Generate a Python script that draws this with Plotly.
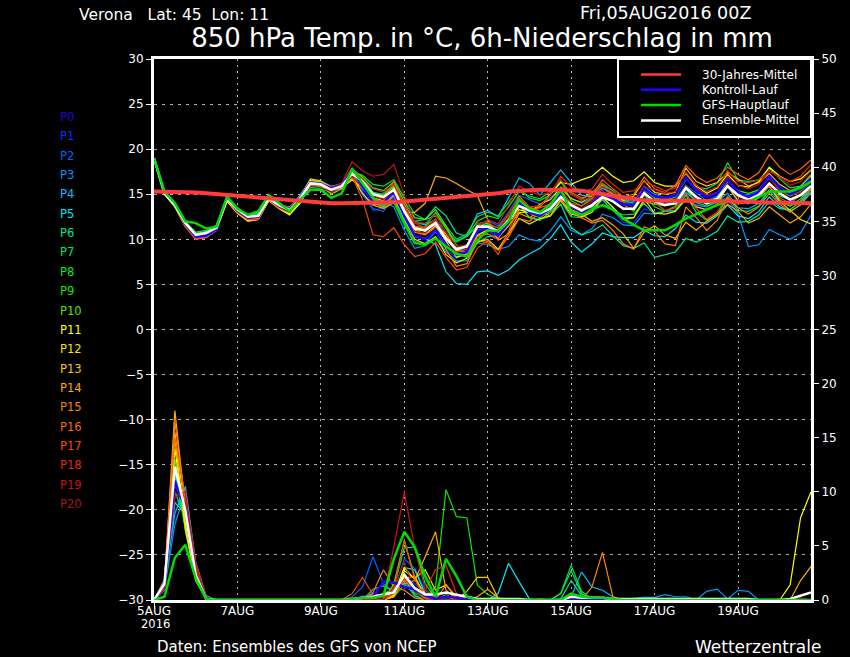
import pandas as pd
import plotly.graph_objects as go

# temperature at 850 hPa, one value every 6h from 05AUG2016 00Z
t_p0 = [19.0,15.2,13.9,11.7,10.3,10.4,11.1,14.7,13.2,12.4,12.5,14.6,13.7,13.1,14.6,16.3,
        16.2,15.6,16.0,17.6,15.9,14.1,14.1,15.2,12.6,10.4,10.0,11.1,9.4,8.3,8.6,11.0,
        11.2,10.4,11.9,14.0,13.0,12.6,13.4,15.1,13.6,13.0,13.9,15.2,14.4,13.9,13.8,15.6,
        14.8,14.6,14.9,16.8,15.4,14.7,15.1,16.6,15.3,14.6,15.3,17.0,15.8,15.0,15.6,16.8]
t_p1 = [19.0,15.1,13.7,11.6,10.2,10.3,11.2,14.8,13.4,12.3,12.4,14.4,13.6,13.5,14.8,16.4,
        16.3,15.4,15.8,17.1,15.4,13.2,13.5,14.8,12.0,9.8,9.6,10.8,8.9,7.9,8.4,10.6,
        10.9,10.1,12.3,14.4,13.6,12.8,13.6,14.9,13.2,12.4,13.1,14.3,13.2,11.9,11.8,13.4,
        13.0,13.1,13.5,15.3,14.0,13.6,14.1,15.8,14.2,13.9,14.6,16.1,15.1,14.2,15.0,16.4]
t_p2 = [19.0,15.0,13.8,11.9,10.4,10.6,11.4,14.9,13.5,12.6,12.7,14.5,13.5,12.9,14.3,16.0,
        15.9,15.3,15.9,17.0,14.9,13.4,13.1,14.6,11.6,9.6,9.5,10.9,10.1,8.8,8.9,11.6,
        12.1,11.5,13.0,14.9,14.4,13.9,14.6,15.8,14.6,14.0,14.6,15.8,14.7,14.2,14.0,15.9,
        14.9,14.2,14.4,16.0,15.1,14.3,14.8,15.9,15.1,14.9,15.4,16.8,15.7,15.2,15.6,17.1]
t_p3 = [19.0,15.2,13.9,12.0,10.6,10.7,11.2,14.6,13.3,12.7,12.9,14.7,13.9,13.0,14.1,15.8,
        15.6,15.2,15.7,17.2,15.6,14.4,14.2,13.6,11.0,9.0,9.3,10.2,8.6,7.6,7.6,9.6,
        9.4,8.9,9.2,10.5,10.0,9.8,10.9,12.5,11.0,10.5,11.2,12.8,12.4,11.6,11.5,12.9,
        12.8,13.1,13.2,14.4,13.8,13.6,14.4,14.5,12.8,9.2,9.4,11.1,10.5,10.0,10.7,12.7]
t_p4 = [19.0,15.1,13.6,11.5,10.1,10.5,11.5,14.5,13.1,12.2,12.3,14.3,13.5,13.4,14.9,16.6,
        16.4,15.9,16.1,17.3,16.2,15.2,15.0,16.0,13.6,11.9,11.6,12.2,10.7,9.8,10.4,12.8,
        13.2,12.5,14.6,16.8,16.2,14.9,16.3,17.7,16.3,14.9,14.7,15.7,15.0,14.4,14.2,15.6,
        15.0,14.6,14.1,15.2,14.3,13.9,14.2,15.1,13.5,13.4,14.0,15.4,14.1,13.7,14.2,15.9]
t_p5 = [19.0,15.0,13.7,11.7,10.4,10.8,11.6,14.4,13.0,12.1,12.2,14.4,13.8,13.6,14.6,16.1,
        16.0,15.5,15.9,17.4,16.0,14.0,13.6,14.9,12.1,10.3,10.1,9.4,6.4,5.1,5.0,6.4,
        6.5,6.0,6.6,7.7,8.4,9.0,10.1,11.6,9.7,8.6,9.5,10.7,10.3,10.2,10.2,11.0,
        10.4,10.3,11.2,12.7,11.9,11.8,12.6,13.8,12.6,12.3,13.1,14.7,13.6,13.1,13.8,15.2]
t_p6 = [19.0,15.2,13.8,11.8,10.6,10.9,11.5,14.6,13.4,12.4,12.6,14.8,13.9,12.8,14.0,16.0,
        16.2,15.6,16.2,17.7,16.8,15.2,14.6,15.6,13.9,12.0,12.2,13.6,12.6,10.7,10.3,11.5,
        11.6,11.3,12.7,13.9,12.4,12.2,12.6,13.9,11.3,10.5,10.9,11.6,10.4,9.3,9.0,9.6,
        8.0,8.3,8.6,10.1,9.7,10.2,10.9,12.6,11.9,12.0,12.7,14.2,13.4,13.3,14.2,15.6]
t_p7 = [19.0,15.1,13.9,11.9,10.7,10.8,11.3,14.5,13.3,12.6,12.8,14.9,14.1,13.2,14.4,15.8,
        15.8,15.5,16.1,17.9,16.6,15.0,14.9,15.8,13.2,11.3,11.4,13.0,11.2,9.4,8.0,9.6,
        10.3,10.4,12.0,13.8,12.4,12.1,13.0,14.3,12.5,12.4,13.4,14.4,13.2,12.7,12.8,14.0,
        12.8,13.1,13.2,14.9,13.0,12.1,12.7,14.7,13.2,13.1,13.7,15.5,14.8,14.4,15.0,16.0]
t_p8 = [19.0,15.2,14.0,12.0,10.8,11.0,11.4,14.7,13.4,12.5,12.6,14.6,13.9,13.3,14.5,16.2,
        16.1,15.5,15.9,17.5,17.1,16.1,15.9,16.6,14.6,12.8,12.2,12.6,11.5,10.0,10.6,12.5,
        13.0,12.6,14.1,15.6,14.6,14.3,14.9,16.4,15.0,14.4,15.2,16.2,15.4,14.3,14.0,15.5,
        14.6,14.3,14.7,16.6,15.8,15.6,16.2,18.5,16.6,16.4,16.6,17.9,16.7,15.7,15.9,17.2]
t_p9 = [19.0,15.1,13.7,11.8,10.5,10.7,11.6,14.4,13.2,12.5,12.7,14.5,13.7,12.9,14.2,15.9,
        15.9,15.4,16.0,17.2,16.4,15.1,15.0,15.9,13.6,12.0,11.7,12.9,11.2,9.7,10.3,12.0,
        12.6,12.3,13.6,15.3,14.8,14.5,15.3,16.5,14.3,13.7,14.6,16.2,15.0,13.9,13.1,14.9,
        13.6,13.1,13.7,15.6,14.1,13.7,14.1,16.0,14.7,14.5,15.1,15.9,14.4,13.7,14.5,16.0]
t_p10 = [19.0,15.3,13.9,11.7,10.4,10.6,11.3,14.6,13.5,12.7,12.9,14.7,14.0,13.4,14.7,16.5,
         16.4,15.7,16.1,17.8,16.9,15.7,15.4,16.4,14.2,12.4,12.2,13.3,11.5,9.1,9.4,11.5,
         11.8,10.8,12.4,13.9,12.9,12.4,13.2,14.9,14.0,13.1,13.6,14.7,13.5,12.4,12.4,14.2,
         13.9,13.7,14.1,15.9,14.7,14.2,14.6,16.4,15.4,15.1,15.5,16.9,15.4,14.8,15.3,16.5]
t_p11 = [19.0,15.2,13.8,11.6,10.3,10.5,11.0,14.2,12.9,12.1,12.2,14.3,13.4,12.7,14.0,16.0,
         16.1,15.4,15.7,16.6,15.7,14.9,14.6,15.4,12.9,11.0,10.6,11.5,9.8,8.0,8.4,10.4,
         11.1,10.4,11.8,13.3,13.0,13.6,15.0,16.3,16.1,16.6,17.0,18.0,17.0,16.3,16.5,17.5,
         16.3,15.9,15.9,17.3,15.9,15.1,15.7,17.2,16.0,15.8,16.4,18.0,17.0,16.4,16.7,17.7]
t_p12 = [19.0,15.1,13.7,11.5,10.2,10.4,11.1,14.3,13.0,12.2,12.3,14.4,13.6,12.8,14.3,16.5,
         16.3,15.6,15.8,16.9,15.1,13.8,14.0,15.0,12.3,10.0,9.5,10.3,8.3,7.4,7.9,9.7,
         10.0,8.9,10.7,12.3,11.7,12.3,12.6,14.4,12.8,12.5,13.0,14.6,13.6,12.2,12.4,14.5,
         12.9,12.8,13.1,14.5,13.6,13.3,13.9,15.9,14.3,14.0,14.6,15.9,14.2,13.2,12.2,11.7]
t_p13 = [19.0,15.0,13.6,11.4,10.1,10.2,11.0,14.3,12.9,12.0,12.2,14.3,13.5,13.0,14.6,16.7,
         16.5,15.7,16.0,17.0,15.9,14.6,14.3,15.7,13.3,11.4,10.9,11.6,10.6,8.8,8.6,10.9,
         11.5,10.2,11.5,13.0,13.0,13.9,14.4,15.7,14.5,14.1,14.8,16.0,15.0,14.3,14.8,16.5,
         15.2,15.0,15.2,17.9,16.4,15.9,16.3,17.4,16.7,15.9,16.3,17.3,16.1,15.4,15.8,17.0]
t_p14 = [19.0,15.1,13.7,11.6,10.0,10.3,11.3,14.5,13.2,12.3,12.5,14.6,13.8,13.1,14.8,16.4,
         16.0,15.0,15.6,16.8,16.0,13.8,13.4,14.1,13.0,13.0,14.0,17.0,16.8,16.2,15.5,14.9,
         12.2,9.9,10.6,12.9,12.4,13.1,12.6,14.3,13.3,12.8,12.0,12.4,11.6,10.6,9.0,10.8,
         11.5,10.5,10.1,11.9,11.0,12.0,12.8,13.9,13.1,11.8,12.3,13.6,12.7,11.8,12.5,13.9]
t_p15 = [19.0,15.2,13.8,11.5,10.0,10.2,11.1,14.4,13.1,12.2,12.3,14.5,13.6,13.2,14.7,16.3,
         16.1,15.6,16.1,17.3,15.8,14.5,13.4,14.9,12.6,10.8,10.5,11.3,8.9,7.0,7.3,9.9,
         9.6,8.8,10.3,12.3,12.0,13.0,14.0,14.5,13.0,12.4,11.8,12.1,11.0,9.5,8.9,11.4,
         10.9,9.5,9.3,13.6,12.4,11.0,12.1,14.5,13.5,12.8,13.6,15.1,13.9,13.0,13.9,15.5]
t_p16 = [19.0,15.3,14.0,11.6,10.1,10.2,11.2,14.6,13.2,12.4,12.4,14.7,13.8,13.0,14.4,16.1,
         16.2,15.8,16.2,17.6,16.3,14.8,14.6,16.4,13.7,11.5,11.2,12.0,10.3,8.5,8.2,10.3,
         10.6,10.0,12.4,14.8,13.6,13.1,13.5,15.8,15.2,14.6,14.9,16.6,15.6,14.7,15.0,16.9,
         15.6,15.2,16.0,18.2,17.0,16.3,16.8,18.0,17.2,16.6,17.4,19.4,18.0,17.2,17.8,18.8]
t_p17 = [19.0,15.2,13.9,11.4,10.0,10.4,11.2,14.4,13.0,12.2,12.2,14.5,13.8,13.3,14.4,16.0,
         16.0,15.4,16.0,17.0,14.4,10.5,10.3,11.3,9.4,8.1,8.4,9.7,8.0,6.6,6.9,9.0,
         9.9,8.3,10.9,13.6,13.1,13.5,13.9,15.4,14.0,13.7,14.4,16.2,14.8,14.1,13.8,15.3,
         14.1,13.2,13.5,15.1,13.4,12.2,13.0,14.8,13.9,14.1,14.8,15.9,14.6,14.0,14.9,15.6]
t_p18 = [19.0,15.1,13.8,11.6,10.2,10.6,11.4,14.7,13.3,12.5,12.6,14.4,13.5,13.0,14.5,16.2,
         16.2,15.7,16.1,17.8,16.7,15.6,15.2,16.1,13.7,11.8,11.3,12.3,10.2,8.6,8.9,11.8,
         11.9,11.2,12.8,14.6,13.6,13.7,14.9,17.0,15.8,15.2,15.6,17.2,16.1,15.2,15.4,16.4,
         15.9,15.4,15.7,17.4,16.0,15.3,15.8,17.6,16.4,16.3,16.6,17.6,16.9,16.4,17.0,18.3]
t_p19 = [19.0,15.3,14.0,11.8,10.4,10.5,11.3,14.6,13.4,12.4,12.5,14.6,14.0,13.5,14.6,16.1,
         16.1,15.8,16.2,18.6,17.6,17.0,17.2,18.3,14.9,11.9,11.8,12.8,10.7,9.3,9.0,11.3,
         12.2,11.7,13.8,15.9,15.3,14.9,15.2,16.7,15.0,14.3,14.7,15.9,15.2,14.5,14.3,15.8,
         15.5,15.1,15.3,16.6,15.7,14.9,15.2,16.9,16.0,15.6,16.1,17.6,16.9,16.0,16.4,17.6]
t_p20 = [19.0,15.2,13.7,11.7,10.3,10.6,11.1,14.5,13.1,12.3,12.5,14.5,13.9,13.2,14.3,15.9,
         15.7,15.3,15.8,17.0,15.7,14.8,14.4,15.5,13.0,10.9,10.7,11.7,10.9,9.2,9.4,11.1,
         11.4,11.0,12.5,14.2,13.4,13.0,13.7,14.8,13.9,13.4,14.2,15.5,14.1,13.5,13.6,15.0,
         14.4,14.0,14.3,15.9,14.4,14.0,14.5,16.1,14.7,14.6,15.3,16.8,15.4,14.9,15.2,16.6]

t_gfs = [19.0,15.3,14.0,12.0,11.8,11.2,11.4,14.7,13.4,12.7,13.1,14.9,14.0,13.1,14.4,15.5,
         15.5,14.6,15.1,17.8,16.2,14.6,13.8,14.2,11.8,9.6,9.4,10.1,9.2,8.4,8.1,9.9,
         11.0,10.9,12.0,14.4,13.4,13.0,13.8,15.5,13.1,12.7,13.3,13.8,13.3,12.3,11.6,11.0,
         11.0,11.0,11.6,12.3,12.8,13.3,13.8,14.2,14.2,14.2,14.7,15.3,15.3,15.3,15.7,16.4]
t_mean = [19.0,15.1,13.8,11.8,10.5,10.7,11.3,14.5,13.3,12.5,12.6,14.5,13.8,13.2,14.5,16.2,
          16.1,15.5,15.9,17.3,16.4,15.0,14.7,15.5,13.1,11.2,11.0,11.8,10.1,8.9,9.2,11.4,
          11.4,10.9,12.1,13.7,13.2,12.9,13.4,14.7,13.8,13.2,13.8,14.7,14.2,13.4,13.4,15.1,
          14.2,13.8,14.0,15.7,14.7,14.0,14.5,15.9,14.9,14.4,14.9,16.2,15.1,14.4,14.9,15.9]
t_clim = [15.3,15.3,15.3,15.3,15.2,15.1,15.0,14.9,14.8,14.7,14.6,14.5,14.4,14.3,14.2,14.1,
          14.1,14.0,14.0,14.0,14.0,14.0,14.1,14.1,14.2,14.3,14.4,14.5,14.6,14.7,14.8,14.9,
          14.9,15.1,15.3,15.4,15.5,15.5,15.5,15.5,15.5,15.4,15.2,15.0,14.8,14.6,14.4,14.3,
          14.3,14.3,14.3,14.2,14.2,14.2,14.2,14.2,14.2,14.2,14.1,14.1,14.1,14.0,14.0,14.0]

temp_members = [t_p0, t_p1, t_p2, t_p3, t_p4, t_p5, t_p6, t_p7, t_p8, t_p9, t_p10,
                t_p11, t_p12, t_p13, t_p14, t_p15, t_p16, t_p17, t_p18, t_p19, t_p20]

# 6h precipitation in mm, same time steps
def pad(v):
    return v + [0] * (64 - len(v))

r_p0 = pad([0,1.5,11,8.5,2.2,.1] + [0]*13 + [0,.2,.3,1.7,1.6,1.2,1.0,.4,.1,.3,.2])
r_p1 = pad([0,1.2,9,9.5,2.8,.2] + [0]*13 + [0,.4,.2,.6,.9,2.4,1.5,.7,.2,0,.1])
r_p2 = pad([0,1.8,13,8,2,.1] + [0]*13 + [.3,1.2,4.0,1.5,.8,3.8,2.9,.9,.2,.1])
r_p3 = pad([0,.9,7,10,3.2,.3] + [0]*13 + [0,.1,.6,.3,1.1,1.9,.7,.3,.1] + [0]*18
           + [.15,.25,.25,.5,.3,.3,0,.8,1,.1,.9,.8])
r_p4 = pad([0,1.4,8,10.5,3.5,.4] + [0]*15 + [.5,.3,1.2,1.6,.4] + [0]*14 + [.3,2.6,1.2,.9,.3])
r_p5 = pad([0,1.1,9,8,3,.3] + [0]*17 + [.4,3,2.8,.6] + [0]*6 + [.6,3.4,1.7,.1])
r_p6 = pad([0,1.6,10,7.5,2.4,.2] + [0]*15 + [1.0,1.3,.8,2.0,.4] + [0]*13 + [.1,1.8,.4])
r_p7 = pad([0,1.3,11.5,7,2,.1] + [0]*17 + [1.2,4.8,4.9,1.5,.2] + [0]*11 + [.6,2.7,.6])
r_p8 = pad([0,1.5,12,6.5,1.8,.1] + [0]*17 + [.8,2.5,1.0] + [0]*13 + [.6,3.2,.8,.1])
r_p9 = pad([0,1.7,12.5,7,1.9,.1] + [0]*17 + [.3,1.4,.6,.2,1.2,10.2,7.7,7.6,1.4,.5,.1])
r_p10 = pad([0,1.8,13,7.5,2.1,.1] + [0]*17 + [1.5,5.5,2.1,.4,0,.5])
r_p11 = pad([0,1.4,14,7,1.8,.1] + [0]*17 + [.5,3,1.9,.6] + [0]*34 + [1.4,7.6,10])
r_p12 = pad([0,1.3,15,6.5,1.9,.1] + [0]*17 + [.4,2.7,2.0,2.8,.9,1.4,.2])
r_p13 = pad([0,1.6,15.5,8,2.3,.1] + [0]*17 + [.3,2.0,2.2,.4,0,.3,0,.8,2.1,2.1,.15])
r_p14 = pad([0,1.5,17.5,8.5,2.4,.1] + [0]*16 + [.6,1.0,1.5,1.8,4.0,6.3,.9,.1,0,.3,1.0,.2]
            + [0]*28 + [1.8,3.1])
r_p15 = pad([0,1.7,16.5,9,2.6,.1] + [0]*15 + [.7,2.8,1.2,.9,.2,0,0,1.4,.3] + [0]*7 + [.1]
            + [0]*4 + [1.2,4.4,.3])
r_p16 = pad([0,1.9,15,9.5,2.9,.2] + [0]*14 + [.3,.4,.2,.6,1.8,1.1,.2])
r_p17 = pad([0,1.4,12,9,3,.2] + [0]*13 + [.6,2.1,.5,.3,1.0,5.5,1.9,.2] + [0]*33 + [.1])
r_p18 = pad([0,1.2,10.5,9.5,3.1,.3] + [0]*17 + [.6,2.0,1.0,.9,2.8,3.2,.6])
r_p19 = pad([0,1.0,9.5,10,3.4,.3] + [0]*16 + [.3,4.9,10,4.8,1.0,.2] + [0]*34 + [.2])
r_p20 = pad([0,1.3,10,9,2.7,.2] + [0]*17 + [1.2,3.5,.8])

r_gfs = pad([0,.3,3.9,5.1,2,.1] + [0]*13 + [.1,.2,.2,.4,3.8,6.3,4.9,2.2,.3,3.8,2.2,.3]
            + [0]*9 + [.6,.3,.2,.2,.1])
r_mean = pad([0,1.5,12.3,8.3,2.3,.1] + [0]*13 + [.1,.2,.3,.5,.7,2.3,1.1,.5,.5,.7,.5,.3,.1,.1,.1,.1,.1]
             + [0]*4 + [.3,.2,.2,.2,.1,.1,.1] + [.1]*11 + [0]*3 + [.1,.4,.7])

rain_members = [r_p0, r_p1, r_p2, r_p3, r_p4, r_p5, r_p6, r_p7, r_p8, r_p9, r_p10,
                r_p11, r_p12, r_p13, r_p14, r_p15, r_p16, r_p17, r_p18, r_p19, r_p20]

member_names = ["P%d" % i for i in range(21)]
member_colors = ["#2800dc", "#0032ff", "#0064ff", "#0096ff", "#00beff", "#00e6ff",
                 "#00e696", "#00e664", "#00e63c", "#14e600", "#50e600",
                 "#ffff00", "#ffe000", "#ffc800", "#ffaa00", "#ff8200",
                 "#ff6400", "#ff4600", "#e62800", "#c81414", "#aa1414"]

times = pd.date_range("2016-08-05 00:00", periods=64, freq="6h")
tick_dates = ["2016-08-05", "2016-08-07", "2016-08-09", "2016-08-11", "2016-08-13",
              "2016-08-15", "2016-08-17", "2016-08-19"]
tick_labels = ["5AUG", "7AUG", "9AUG", "11AUG", "13AUG", "15AUG", "17AUG", "19AUG"]

legend_names = ["30-Jahres-Mittel", "Kontroll-Lauf", "GFS-Hauptlauf", "Ensemble-Mittel"]
legend_colors = ["#ff3c3c", "#2000ff", "#00dc00", "white"]

FONT = "DejaVu Sans"

# plot box in window pixels
L, R, T, B = 154, 811, 59, 600


def px_x(p):
    return (p - L) / (R - L)


def px_y(p):
    return (B - p) / (B - T)


fig = go.Figure()

for name, col, temp, rain in zip(member_names, member_colors, temp_members, rain_members):
    fig.add_trace(go.Scatter(x=times, y=temp, mode="lines", name=name,
                             line=dict(color=col, width=1.2), showlegend=False))
    fig.add_trace(go.Scatter(x=times, y=rain, yaxis="y2", mode="lines", name=name,
                             line=dict(color=col, width=1.2), showlegend=False))

# green goes over white in the picture, red over everything
for label, temp, rain, col, w in [("Kontroll-Lauf", t_p0, r_p0, "#2000ff", 2.5),
                                  ("Ensemble-Mittel", t_mean, r_mean, "white", 2.5),
                                  ("GFS-Hauptlauf", t_gfs, r_gfs, "#00dc00", 2.5)]:
    fig.add_trace(go.Scatter(x=times, y=temp, mode="lines", name=label, showlegend=False,
                             line=dict(color=col, width=w)))
    fig.add_trace(go.Scatter(x=times, y=rain, yaxis="y2", mode="lines", name=label, showlegend=False,
                             line=dict(color=col, width=w)))
fig.add_trace(go.Scatter(x=times, y=t_clim, mode="lines", name="30-Jahres-Mittel", showlegend=False,
                         line=dict(color="#ff3c3c", width=4)))

annots = []
for i, (name, col) in enumerate(zip(member_names, member_colors)):
    annots.append(dict(text=name, x=px_x(58), y=px_y(117 + i * 19.35), xref="paper", yref="paper",
                       xanchor="left", yanchor="middle", showarrow=False,
                       font=dict(family=FONT, size=11.5, color=col)))

for txt, xp, yp, size, anchor in [
    ("Verona   Lat: 45  Lon: 11", 77, 15, 15.5, "left"),
    ("Fri,05AUG2016 00Z", 578, 13, 17.5, "left"),
    ("Daten: Ensembles des GFS von NCEP", 155, 647, 15, "left"),
    ("Wetterzentrale", 823, 647, 17, "right"),
    ("2016", 155, 624, 11.5, "center"),
]:
    annots.append(dict(text=txt, x=px_x(xp), y=px_y(yp), xref="paper", yref="paper",
                       xanchor=anchor, yanchor="middle", showarrow=False,
                       font=dict(family=FONT, size=size, color="white")))

# legend box, drawn by hand so the rows keep their 15px pitch
boxes = [dict(type="rect", xref="paper", yref="paper", layer="above",
              x0=px_x(618), x1=1, y0=px_y(137), y1=px_y(59),
              line=dict(color="white", width=2), fillcolor="black")]
for i, (label, col) in enumerate(zip(legend_names, legend_colors)):
    yp = 74.5 + i * 15.3
    boxes.append(dict(type="line", xref="paper", yref="paper", layer="above",
                      x0=px_x(641), x1=px_x(681), y0=px_y(yp), y1=px_y(yp),
                      line=dict(color=col, width=2.5)))
    annots.append(dict(text=label, x=px_x(700), y=px_y(yp), xref="paper", yref="paper",
                       xanchor="left", yanchor="middle", showarrow=False,
                       font=dict(family=FONT, size=12, color="white")))

fig.update_layout(
    width=850, height=657,
    margin=dict(l=L, r=850 - R, t=T, b=657 - B),
    paper_bgcolor="black", plot_bgcolor="black",
    font=dict(family=FONT, size=12, color="white"),
    title=dict(text="850 hPa Temp. in °C, 6h-Niederschlag in mm",
               x=px_x(482), xanchor="center", xref="paper",
               y=1 - 38 / 657, yanchor="middle", yref="container",
               font=dict(family=FONT, size=26, color="white")),
    xaxis=dict(type="date", range=[times[0], times[-1]],
               tickmode="array", tickvals=tick_dates, ticktext=tick_labels,
               showline=True, linecolor="white", linewidth=3, mirror=True,
               ticks="outside", ticklen=4, tickcolor="white", tickwidth=1,
               showgrid=True, gridcolor="#b4b4b4", griddash="2px,4px", gridwidth=1,
               zeroline=False, tickangle=0, ticklabelstandoff=-6),
    yaxis=dict(range=[-30, 30], tick0=-30, dtick=5,
               showline=True, linecolor="white", linewidth=3,
               ticks="outside", ticklen=5, tickcolor="white", tickwidth=1,
               showgrid=True, gridcolor="#b4b4b4", griddash="3px,5px", gridwidth=1,
               zeroline=False, tickformat="d"),
    yaxis2=dict(range=[0, 50], tick0=0, dtick=5, overlaying="y", side="right",
                showline=True, linecolor="white", linewidth=3,
                ticks="outside", ticklen=5, tickcolor="white", tickwidth=1,
                showgrid=False, zeroline=False),
    shapes=boxes,
    annotations=annots,
)

# page margin would shift the chart by 8px and leave a white border
fig.write_html("out.html", config={"displayModeBar": False},
               post_script="document.body.style.margin='0';"
                           "document.body.style.background='black';"
                           "document.body.style.overflow='hidden';")
